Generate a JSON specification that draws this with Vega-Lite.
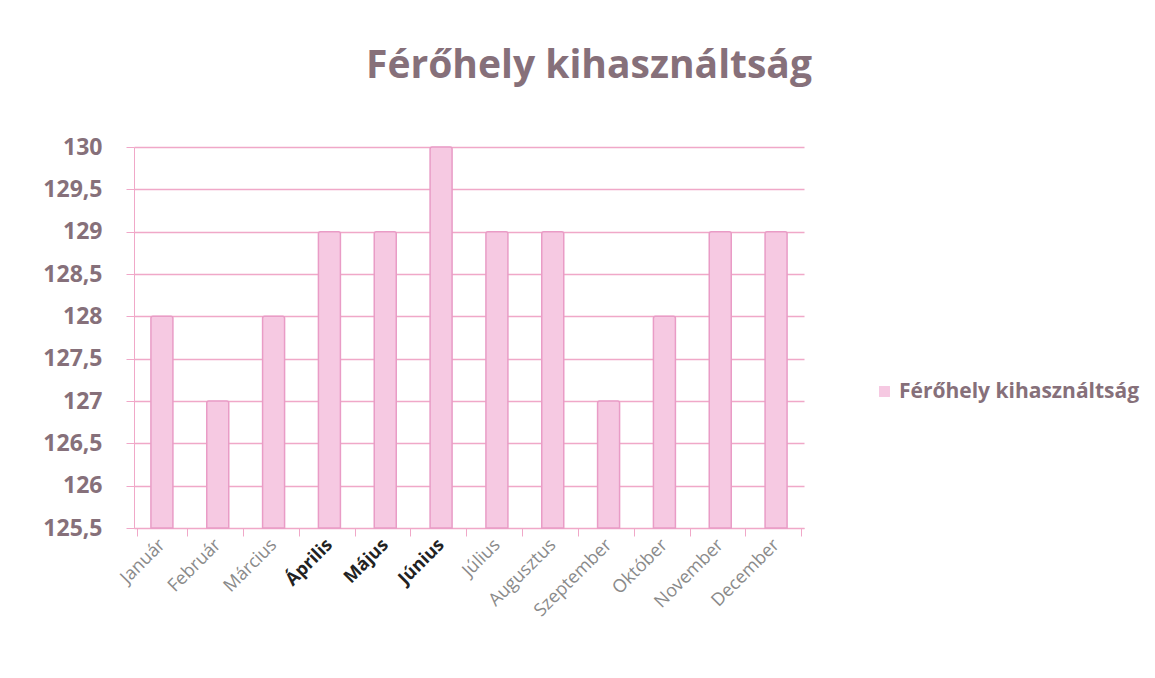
{
  "$schema": "https://vega.github.io/schema/vega-lite/v6.json",
  "autosize": "none",
  "width": 670,
  "height": 381,
  "padding": {"left": 134, "top": 147, "right": 351, "bottom": 150},
  "background": "white",
  "title": {
    "text": "Férőhely kihasználtság",
    "font": "Open Sans",
    "fontSize": 39,
    "fontWeight": "bold",
    "color": "#86707a",
    "anchor": "middle",
    "dx": 120,
    "offset": 50
  },
  "data": {
    "values": [
      {"honap": "Január", "ertek": 128, "sorozat": "Férőhely kihasználtság"},
      {"honap": "Február", "ertek": 127, "sorozat": "Férőhely kihasználtság"},
      {"honap": "Március", "ertek": 128, "sorozat": "Férőhely kihasználtság"},
      {"honap": "Április", "ertek": 129, "sorozat": "Férőhely kihasználtság"},
      {"honap": "Május", "ertek": 129, "sorozat": "Férőhely kihasználtság"},
      {"honap": "Június", "ertek": 130, "sorozat": "Férőhely kihasználtság"},
      {"honap": "Július", "ertek": 129, "sorozat": "Férőhely kihasználtság"},
      {"honap": "Augusztus", "ertek": 129, "sorozat": "Férőhely kihasználtság"},
      {"honap": "Szeptember", "ertek": 127, "sorozat": "Férőhely kihasználtság"},
      {"honap": "Október", "ertek": 128, "sorozat": "Férőhely kihasználtság"},
      {"honap": "November", "ertek": 129, "sorozat": "Férőhely kihasználtság"},
      {"honap": "December", "ertek": 129, "sorozat": "Férőhely kihasználtság"}
    ]
  },
  "mark": {"type": "bar", "width": 22, "stroke": "#e99cc6", "strokeWidth": 1.5, "cornerRadiusTopLeft": 2, "cornerRadiusTopRight": 2},
  "encoding": {
    "x": {
      "field": "honap",
      "type": "nominal",
      "sort": null,
      "title": null,
      "axis": {
        "labelAngle": -45,
        "labelAlign": "right",
        "labelBaseline": "middle",
        "labelFont": "Open Sans",
        "labelFontSize": 18,
        "labelColor": {"condition": {"test": "indexof(['Április','Május','Június'], datum.value) >= 0", "value": "#222222"}, "value": "#8a8a8a"},
        "labelFontWeight": {"condition": {"test": "indexof(['Április','Május','Június'], datum.value) >= 0", "value": "bold"}, "value": "normal"},
        "domainColor": "#f0a8c8",
        "tickColor": "#f0a8c8",
        "tickSize": 8,
        "tickBand": "extent",
        "labelPadding": 6,
        "grid": false
      }
    },
    "y": {
      "field": "ertek",
      "type": "quantitative",
      "title": null,
      "scale": {"domain": [125.5, 130], "zero": false, "nice": false},
      "axis": {
        "values": [125.5, 126, 126.5, 127, 127.5, 128, 128.5, 129, 129.5, 130],
        "labelExpr": "replace(format(datum.value, '.1~f'), '.', ',')",
        "labelFont": "Open Sans",
        "labelFontSize": 23,
        "labelFontWeight": "bold",
        "labelColor": "#86707a",
        "labelPadding": 24,
        "domainColor": "#f0a8c8",
        "tickColor": "#f0a8c8",
        "tickSize": 8,
        "gridColor": "#f0a8c8",
        "gridWidth": 1.5
      }
    },
    "y2": {"datum": 125.5},
    "fill": {
      "field": "sorozat",
      "type": "nominal",
      "scale": {"range": ["#f6c9e2"]},
      "legend": {
        "title": null,
        "orient": "none",
        "legendX": 740,
        "legendY": 234,
        "symbolType": "square",
        "symbolSize": 120,
        "symbolStrokeWidth": 0,
        "labelFont": "Open Sans",
        "labelFontSize": 21,
        "labelFontWeight": "bold",
        "labelColor": "#86707a",
        "labelLimit": 400
      }
    }
  },
  "config": {
    "view": {"stroke": null}
  }
}
